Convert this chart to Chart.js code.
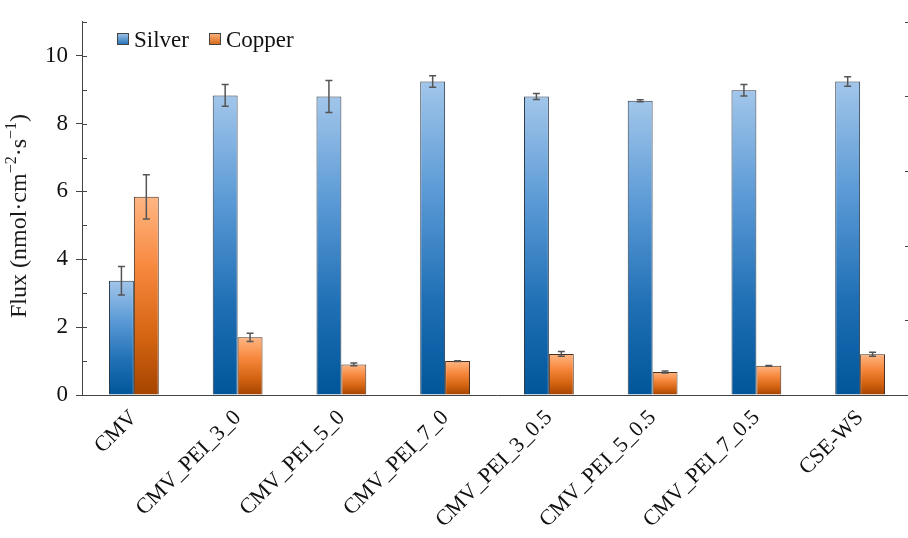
<!DOCTYPE html>
<html>
<head>
<meta charset="utf-8">
<script src="https://cdn.jsdelivr.net/npm/chart.js@4.4.1/dist/chart.umd.min.js"></script>
<style>
  html, body { margin: 0; padding: 0; background: #fff; overflow: hidden; }
  #wrap { width: 920px; height: 538px; }
</style>
</head>
<body>
<div id="wrap"><canvas id="flux" width="920" height="538"></canvas></div>
<script>
// Membrane samples on the x axis
const CATEGORIES = ['CMV', 'CMV_PEI_3_0', 'CMV_PEI_5_0', 'CMV_PEI_7_0',
                    'CMV_PEI_3_0.5', 'CMV_PEI_5_0.5', 'CMV_PEI_7_0.5', 'CSE-WS'];

// Flux values (nmol·cm-2·s-1) and their standard deviations
const SILVER     = [3.37, 8.83, 8.80, 9.24, 8.80, 8.67, 8.98, 9.24];
const SILVER_ERR = [0.42, 0.32, 0.47, 0.17, 0.09, 0.03, 0.17, 0.14];
const COPPER     = [5.84, 1.70, 0.90, 1.00, 1.21, 0.68, 0.86, 1.20];
const COPPER_ERR = [0.65, 0.12, 0.04, 0.01, 0.07, 0.03, 0.01, 0.06];

const Y_TICKS = [0, 2, 4, 6, 8, 10];

const FONT = '"Liberation Serif", serif';

// gradient stops, light at the top of the bar, dark at the base
const BLUE   = ['#a2c6ea', '#5b9ad6', '#1f6fb5', '#00569a'];
const ORANGE = ['#ffb684', '#f7893f', '#d56512', '#a54300'];

function barGradient(stops) {
  return (ctx) => {
    const chart = ctx.chart;
    const y = chart.scales.y;
    if (ctx.type !== 'data' || !y) return stops[1];
    const top  = y.getPixelForValue(ctx.raw);
    const base = y.getPixelForValue(0);
    if (!isFinite(top) || !isFinite(base) || top === base) return stops[1];
    const g = chart.ctx.createLinearGradient(0, top, 0, base);
    g.addColorStop(0, stops[0]);
    g.addColorStop(0.35, stops[1]);
    g.addColorStop(0.7, stops[2]);
    g.addColorStop(1, stops[3]);
    return g;
  };
}

// error bars with caps, drawn on top of each bar
const errorBars = {
  id: 'errorBars',
  afterDatasetsDraw(chart) {
    const { ctx, scales: { y } } = chart;
    ctx.save();
    ctx.strokeStyle = '#555';
    ctx.lineWidth = 1.5;
    chart.data.datasets.forEach((ds, i) => {
      const meta = chart.getDatasetMeta(i);
      meta.data.forEach((bar, j) => {
        const v = ds.data[j], e = ds.errors[j];
        const hi = y.getPixelForValue(v + e);
        const lo = y.getPixelForValue(v - e);
        ctx.beginPath();
        ctx.moveTo(bar.x, hi); ctx.lineTo(bar.x, lo);
        ctx.moveTo(bar.x - 3.5, hi); ctx.lineTo(bar.x + 3.5, hi);
        ctx.moveTo(bar.x - 3.5, lo); ctx.lineTo(bar.x + 3.5, lo);
        ctx.stroke();
      });
    });
    ctx.restore();
  }
};

// inner tick marks on both y axes (major + minor)
const innerTicks = {
  id: 'innerTicks',
  afterDraw(chart) {
    const { ctx, chartArea, scales: { y, y2 } } = chart;
    ctx.save();
    ctx.strokeStyle = '#444';
    ctx.lineWidth = 1;
    ctx.beginPath();
    for (let v = 0; v <= 11; v++) {
      const py = Math.round(y.getPixelForValue(v)) + 0.5;
      ctx.moveTo(chartArea.left, py);
      ctx.lineTo(chartArea.left + 5, py);
    }
    for (let v = 1; v <= 10; v++) {
      const py = Math.round(y2.getPixelForValue(v)) + 0.5;
      const len = v % 2 === 0 ? 7 : 4;
      ctx.moveTo(chartArea.right, py);
      ctx.lineTo(chartArea.right - len, py);
    }
    ctx.stroke();
    ctx.restore();
  }
};

// axis title with real superscripts
const yTitle = {
  id: 'yTitle',
  afterDraw(chart) {
    const { ctx } = chart;
    const parts = [
      ['Flux (nmol·cm', false], ['−2', true], ['·s', false], ['−1', true], [')', false]
    ];
    const big = '24px ' + FONT, small = '16px ' + FONT;
    let w = 0;
    parts.forEach(([t, sup]) => { ctx.font = sup ? small : big; w += ctx.measureText(t).width; });
    ctx.save();
    ctx.translate(26, 216);
    ctx.rotate(-Math.PI / 2);
    ctx.fillStyle = '#1a1a1a';
    ctx.textBaseline = 'alphabetic';
    let x = -w / 2;
    parts.forEach(([t, sup]) => {
      ctx.font = sup ? small : big;
      ctx.fillText(t, x, sup ? -10 : 0);
      x += ctx.measureText(t).width;
    });
    ctx.restore();
  }
};

// legend inside the plot, top left
const legendBox = {
  id: 'legendBox',
  afterDraw(chart) {
    const { ctx, chartArea } = chart;
    const items = [
      { label: chart.data.datasets[0].label, stops: BLUE,   x: chartArea.left + 35 },
      { label: chart.data.datasets[1].label, stops: ORANGE, x: chartArea.left + 127 }
    ];
    ctx.save();
    ctx.font = '23px ' + FONT;
    ctx.textBaseline = 'alphabetic';
    items.forEach(it => {
      const bx = it.x, by = 33;
      const g = ctx.createLinearGradient(0, by, 0, by + 12);
      g.addColorStop(0, it.stops[0]);
      g.addColorStop(1, it.stops[2]);
      ctx.fillStyle = g;
      ctx.fillRect(bx, by, 12, 12);
      ctx.strokeStyle = '#444';
      ctx.lineWidth = 1;
      ctx.strokeRect(bx + 0.5, by + 0.5, 11, 11);
      ctx.fillStyle = '#111';
      ctx.fillText(it.label, bx + 17, 47);
    });
    ctx.restore();
  }
};

new Chart(document.getElementById('flux'), {
  type: 'bar',
  data: {
    labels: CATEGORIES,
    datasets: [
      {
        label: 'Silver',
        data: SILVER,
        errors: SILVER_ERR,
        backgroundColor: barGradient(BLUE),
        borderColor: '#2b3a4a',
        borderWidth: 1,
        yAxisID: 'y'
      },
      {
        label: 'Copper',
        data: COPPER,
        errors: COPPER_ERR,
        backgroundColor: barGradient(ORANGE),
        borderColor: '#4a3020',
        borderWidth: 1,
        yAxisID: 'y'
      }
    ]
  },
  options: {
    responsive: false,
    animation: false,
    categoryPercentage: 0.48,
    barPercentage: 1.0,
    layout: { padding: { top: 13, left: 0, right: 0, bottom: 0 } },
    plugins: {
      legend: { display: false },
      tooltip: { enabled: false }
    },
    scales: {
      x: {
        grid: { display: false },
        border: { display: true, color: '#444', width: 1 },
        ticks: {
          autoSkip: false,
          maxRotation: 45,
          minRotation: 45,
          padding: 2,
          color: '#111',
          font: { family: FONT, size: 22 }
        },
        afterFit: (s) => { s.height = 143; }
      },
      y: {
        position: 'left',
        min: 0,
        max: 11,
        afterBuildTicks: (s) => { s.ticks = Y_TICKS.map(v => ({ value: v })); },
        grid: { drawOnChartArea: false, tickLength: 6, color: '#444' },
        border: { display: true, color: '#444', width: 1 },
        ticks: {
          padding: 8,
          color: '#111',
          font: { family: FONT, size: 23 }
        },
        afterFit: (s) => { s.width = 82; }
      },
      y2: {
        position: 'right',
        min: 0,
        max: 10,
        grid: { display: false },
        border: { display: false },
        ticks: { display: false },
        afterFit: (s) => { s.width = 8; }
      }
    }
  },
  plugins: [errorBars, innerTicks, yTitle, legendBox]
});
</script>
</body>
</html>
